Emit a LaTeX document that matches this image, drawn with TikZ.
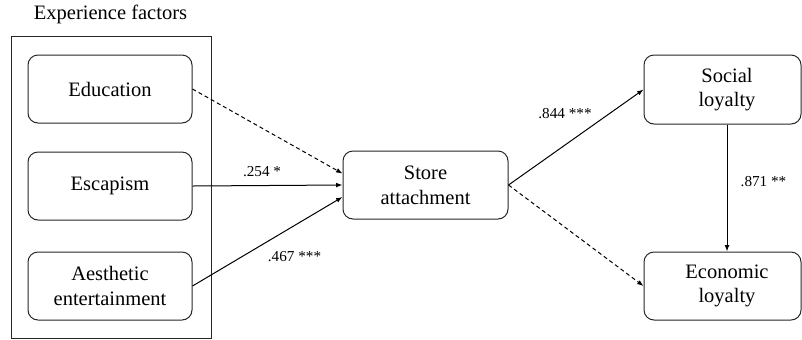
\documentclass[tikz,border=0pt]{standalone}
\usepackage{fontspec}
\IfFontExistsTF{LiberationSerif-Regular.ttf}
  {\newfontfamily\tnr{LiberationSerif-Regular.ttf}}
  {\newfontfamily\tnr{Liberation Serif}}
\usetikzlibrary{arrows.meta}
\begin{document}
\begin{tikzpicture}[x=0.5pt,y=-0.5pt,
  box/.style={draw=black!85, line width=0.5pt, rounded corners=5pt, align=center,
    font=\tnr\fontsize{10.25pt}{12.4pt}\selectfont, inner sep=0pt},
  frame/.style={draw=black!85, line width=0.5pt},
  lab/.style={font=\tnr\fontsize{7.6pt}{9pt}\selectfont, anchor=base, inner sep=0pt},
  ttl/.style={font=\tnr\fontsize{10.25pt}{12.4pt}\selectfont, anchor=base, inner sep=0pt},
  arr/.style={line width=0.5pt, -{Latex[length=3.2pt,width=2.4pt]}},
  dsh/.style={arr, dash pattern=on 2pt off 1.5pt}]
\useasboundingbox (0,0) rectangle (802,339);
\node[ttl] (title) at (110.5,19) {Experience factors};
\node[frame, minimum width=100pt, minimum height=151pt, inner sep=0pt] (group) at (111,187) {};
\node[box, minimum width=82pt, minimum height=34pt] (edu) at (110,89) {Education};
\node[box, minimum width=82pt, minimum height=34pt] (esc) at (110,186) {Escapism};
\node[box, minimum width=82pt, minimum height=34pt] (aes) at (110,286) {Aesthetic\\entertainment};
\node[box, minimum width=82.5pt, minimum height=34pt] (store) at (425.5,185) {Store\\attachment};
\node[box, minimum width=78.5pt, minimum height=34.5pt] (soc) at (722.5,89.5) {\hspace*{4.5pt}Social\\\hspace*{4.5pt}loyalty};
\node[box, minimum width=78.5pt, minimum height=34pt] (eco) at (722.5,286) {\hspace*{4.5pt}Economic\\\hspace*{4.5pt}loyalty};
\draw[dsh] (edu.east) -- ([yshift=5.75pt]store.west);
\draw[arr] (esc.east) -- (store.west);
\draw[arr] (aes.east) -- ([yshift=-6pt]store.west);
\draw[arr] (store.east) -- (soc.west);
\draw[dsh] (store.east) -- (eco.west);
\draw[arr] ([xshift=2.25pt]soc.south) -- ([xshift=2.25pt]eco.north);
\node[lab] (l1) at (262,176) {.254 *};
\node[lab] (l2) at (294.5,261) {.467 ***};
\node[lab] (l3) at (565,118) {.844 ***};
\node[lab] (l4) at (763.5,186) {.871 **};
\end{tikzpicture}
\end{document}
